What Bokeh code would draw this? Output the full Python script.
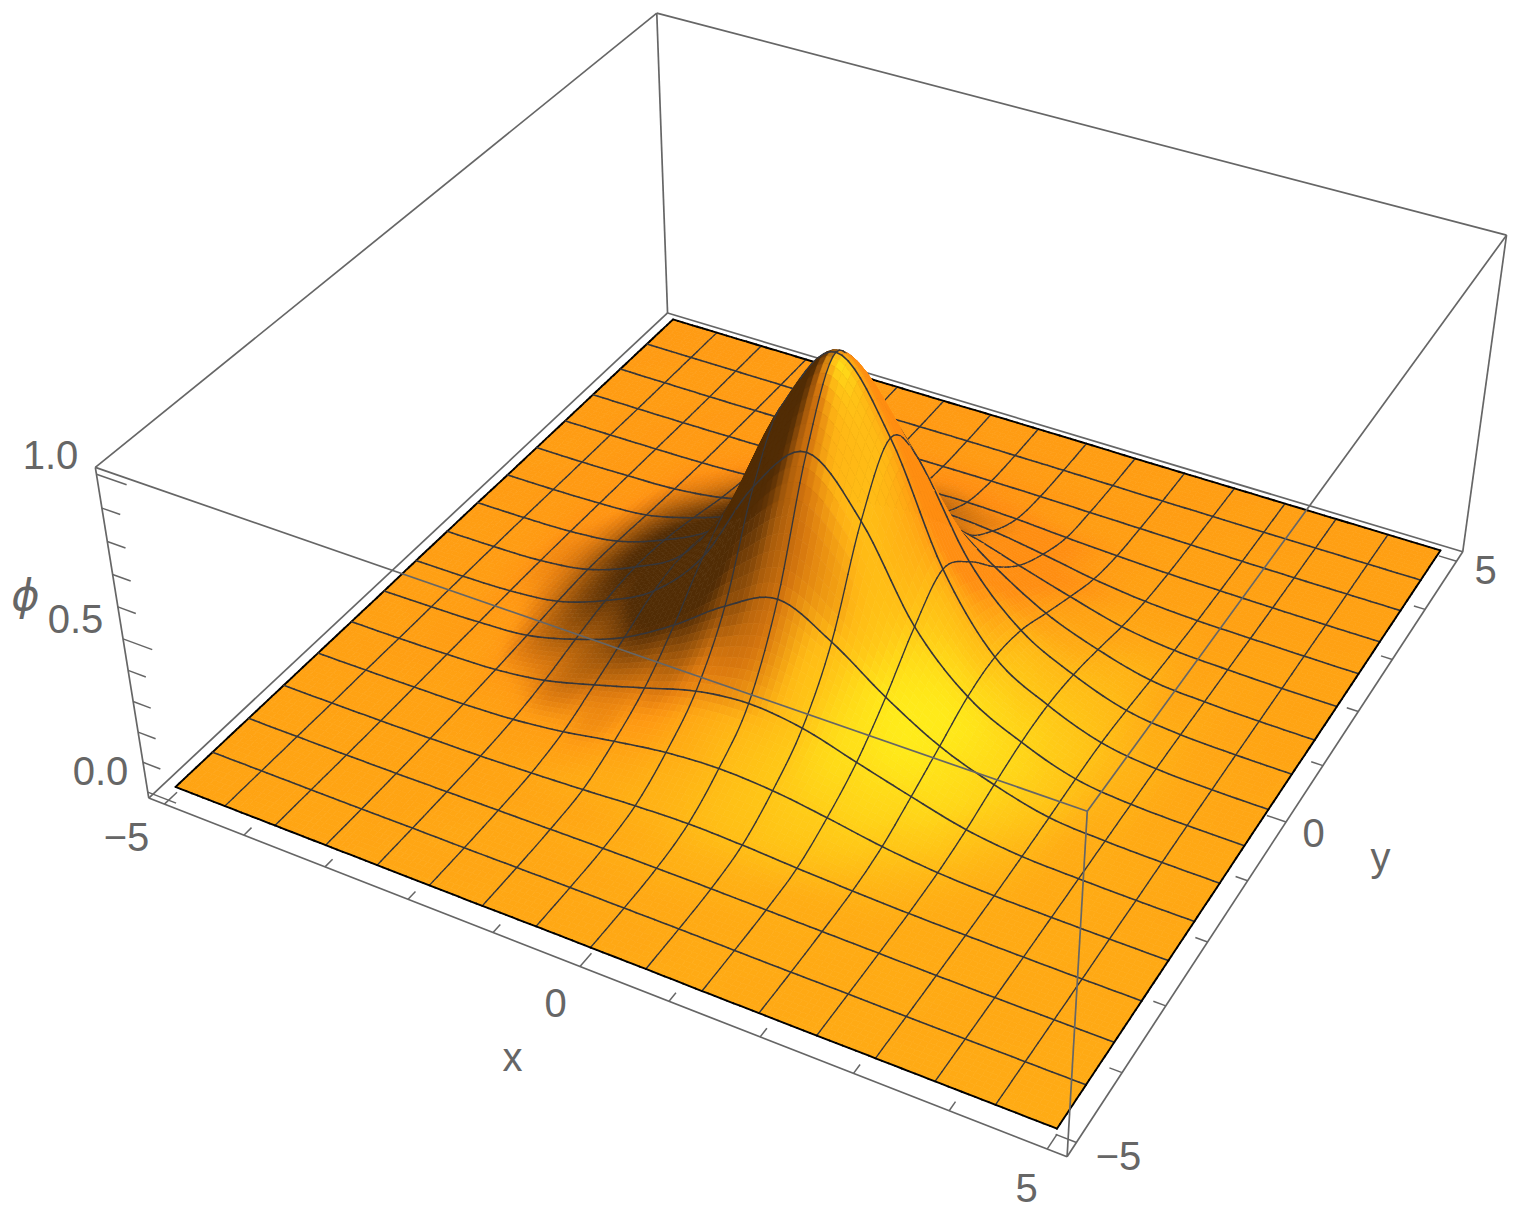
import numpy as np
from bokeh.plotting import figure
from bokeh.models import Range1d
from bokeh.embed import file_html
from bokeh.resources import INLINE
from bokeh.core.properties import value

# ---- data: phi at the 17 x 17 mesh crossings ------------------------------
Y_ROW_00 = [0, 0, 0, 0, 0, 0, 0, .001, .001, .001, 0, 0, 0, 0, 0, 0, 0]
Y_ROW_01 = [0, 0, 0, 0, .001, .001, .002, .003, .003, .003, .002, .001, .001, 0, 0, 0, 0]
Y_ROW_02 = [0, 0, 0, .001, .003, .005, .007, .009, .010, .009, .007, .005, .003, .001, 0, 0, 0]
Y_ROW_03 = [0, 0, .001, .003, .006, .012, .020, .030, .035, .030, .020, .012, .006, .003, .001, 0, 0]
Y_ROW_04 = [0, .001, .003, .006, .015, .035, .065, .090, .100, .090, .065, .035, .015, .006, .003, .001, 0]
Y_ROW_05 = [0, .001, .005, .012, .035, .080, .130, .180, .200, .180, .130, .080, .035, .012, .005, .001, 0]
Y_ROW_06 = [0, .002, .007, .020, .065, .130, .230, .350, .430, .350, .230, .130, .065, .020, .007, .002, 0]
Y_ROW_07 = [.001, .003, .009, .030, .090, .180, .350, .630, .790, .630, .350, .180, .090, .030, .009, .003, .001]
Y_ROW_08 = [.001, .003, .010, .035, .100, .200, .430, .790, 1.00, .790, .430, .200, .100, .035, .010, .003, .001]
Y_ROW_09 = [.001, .003, .009, .030, .090, .180, .350, .630, .790, .630, .350, .180, .090, .030, .009, .003, .001]
Y_ROW_10 = [0, .002, .007, .020, .065, .130, .230, .350, .430, .350, .230, .130, .065, .020, .007, .002, 0]
Y_ROW_11 = [0, .001, .005, .012, .035, .080, .130, .180, .200, .180, .130, .080, .035, .012, .005, .001, 0]
Y_ROW_12 = [0, .001, .003, .006, .015, .035, .065, .090, .100, .090, .065, .035, .015, .006, .003, .001, 0]
Y_ROW_13 = [0, 0, .001, .003, .006, .012, .020, .030, .035, .030, .020, .012, .006, .003, .001, 0, 0]
Y_ROW_14 = [0, 0, 0, .001, .003, .005, .007, .009, .010, .009, .007, .005, .003, .001, 0, 0, 0]
Y_ROW_15 = [0, 0, 0, 0, .001, .001, .002, .003, .003, .003, .002, .001, .001, 0, 0, 0, 0]
Y_ROW_16 = [0, 0, 0, 0, 0, 0, 0, .001, .001, .001, 0, 0, 0, 0, 0, 0, 0]

X_MAJOR = [-5, 0, 5]
X_MINOR = [-4, -3, -2, -1, 1, 2, 3, 4]
Y_MAJOR = [-5, 0, 5]
Y_MINOR = [-4, -3, -2, -1, 1, 2, 3, 4]
Z_MAJOR = [0.0, 0.5, 1.0]
Z_MINOR = [0.1, 0.2, 0.3, 0.4, 0.6, 0.7, 0.8, 0.9]

PHI = np.array([Y_ROW_00, Y_ROW_01, Y_ROW_02, Y_ROW_03, Y_ROW_04, Y_ROW_05, Y_ROW_06, Y_ROW_07, Y_ROW_08,
                Y_ROW_09, Y_ROW_10, Y_ROW_11, Y_ROW_12, Y_ROW_13, Y_ROW_14, Y_ROW_15, Y_ROW_16], dtype=float)

# ---- camera, calibrated on the box and surface corners -----------------------
B, ZL, ZH = 5.2, -0.02, 1.02
CAL_3D = [(-B, -B, ZL), (B, -B, ZL), (B, B, ZL), (-B, B, ZL),
          (-B, -B, ZH), (B, -B, ZH), (B, B, ZH), (-B, B, ZH),
          (-5, -5, 0), (5, -5, 0), (5, 5, 0), (-5, 5, 0)]
CAL_2D = [(147, 798), (1067, 1157), (1463, 552), (667, 312),
          (95, 467), (1087, 811), (1506, 234), (656, 13),
          (176, 786), (1056, 1127), (1439, 550), (673, 319)]

A, R = [], []
for (X, Y, Z), (u, v) in zip(CAL_3D, CAL_2D):
    A.append([X, Y, Z, 1, 0, 0, 0, 0, -u * X, -u * Y, -u * Z])
    A.append([0, 0, 0, 0, X, Y, Z, 1, -v * X, -v * Y, -v * Z])
    R += [u, v]
sol = np.linalg.lstsq(np.array(A, float), np.array(R, float), rcond=None)[0]
CAM = np.append(sol, 1.0).reshape(3, 4)


def project(x, y, z):
    x, y, z = np.asarray(x, float), np.asarray(y, float), np.asarray(z, float)
    w = CAM[2, 0] * x + CAM[2, 1] * y + CAM[2, 2] * z + CAM[2, 3]
    return ((CAM[0, 0] * x + CAM[0, 1] * y + CAM[0, 2] * z + CAM[0, 3]) / w,
            (CAM[1, 0] * x + CAM[1, 1] * y + CAM[1, 2] * z + CAM[1, 3]) / w)


# ---- the surface is drawn finer than the mesh so that its shading is smooth
SUB = 9


def refine(a, n, axis):
    a = np.moveaxis(a, axis, 0)
    p = np.concatenate([[2 * a[0] - a[1]], a, [2 * a[-1] - a[-2]]])
    m = a.shape[0] - 1
    out = np.zeros((m * n + 1,) + a.shape[1:])
    for s in range(m):
        for k in range(n):
            t = k / n
            out[s * n + k] = 0.5 * (2 * p[s + 1] + (p[s + 2] - p[s]) * t
                                    + (2 * p[s] - 5 * p[s + 1] + 4 * p[s + 2] - p[s + 3]) * t ** 2
                                    + (3 * p[s + 1] - p[s] - 3 * p[s + 2] + p[s + 3]) * t ** 3)
    out[-1] = a[-1]
    return np.moveaxis(out, 0, axis)


H = refine(refine(PHI, SUB, 0), SUB, 1)
N = H.shape[0] - 1
gx = np.linspace(-5, 5, N + 1)
GX, GY = np.meshgrid(gx, gx)
SX, SY = project(GX, GY, H)

# lighting
step = 10.0 / N
hy, hx = np.gradient(H, step)
nx, ny, nz = -4 * hx, -4 * hy, np.ones_like(H)
nn = np.sqrt(nx ** 2 + ny ** 2 + nz ** 2)
nx, ny, nz = nx / nn, ny / nn, nz / nn
vp = np.array([1.3, -2.4, 2.0])
e3 = vp / np.linalg.norm(vp)
e1 = np.cross([0, 0, 1.0], e3)
e1 /= np.linalg.norm(e1)
e2 = np.cross(e3, e1)


def dot_image(l):
    l = np.array(l, float)
    l = l[0] * e1 + l[1] * e2 + l[2] * e3
    l /= np.linalg.norm(l)
    return nx * l[0] + ny * l[1] + nz * l[2]


def dot_world(l):
    l = np.array(l, float)
    l /= np.linalg.norm(l)
    return nx * l[0] + ny * l[1] + nz * l[2]


NR, NG, NL = dot_image([1.5, -0.5, 2.0]), dot_image([1.5, 1.5, 2.0]), dot_world([0.5, -0.38, 0.78])
DARK = np.clip(0.55 + 1.9 * NR, 0.32, 1) * np.clip(0.55 + 0.75 * NG, 0.6, 1)
DARK = np.clip(DARK, 0.32, 1)
HUE = np.clip(0.63 + 1.0 * (NL - 0.77) + 0.9 * np.clip(NL - 0.93, 0, 1) + 0.035 * (SY - 700) / 430, 0.56, 0.93)
HUE = 0.54 + (HUE - 0.54) * DARK ** 3
CR = DARK
CG = DARK * HUE
CB = DARK * (0.02 + 0.09 * HUE)


def cell(c, j, i):
    return (c[j, i] + c[j, i + 1] + c[j + 1, i] + c[j + 1, i + 1]) / 4


p = figure(width=1520, height=1216, output_backend="svg", toolbar_location=None,
           x_range=Range1d(0, 1520), y_range=Range1d(1216, 0), min_border=0)
p.axis.visible = False
p.grid.visible = False
p.outline_line_color = None
p.background_fill_color = "white"

GREY = "#666666"
BOX = [(-B, -B, ZL), (B, -B, ZL), (B, B, ZL), (-B, B, ZL),
       (-B, -B, ZH), (B, -B, ZH), (B, B, ZH), (-B, B, ZH)]
BACK_EDGES = [(0, 1), (1, 2), (2, 3), (3, 0), (4, 7), (7, 6), (3, 7), (2, 6), (0, 4)]
FRONT_EDGES = [(4, 5), (5, 6), (1, 5)]


def draw_edges(edges, width=1.7):
    xs, ys = [], []
    for a, b in edges:
        u, v = project(*zip(BOX[a], BOX[b]))
        xs.append(list(u))
        ys.append(list(v))
    p.multi_line(xs, ys, line_color=GREY, line_width=width)


def ticks(points, dirn, length, width=1.5):
    xs, ys = [], []
    for q in points:
        u, v = project([q[0], q[0] + dirn[0] * length], [q[1], q[1] + dirn[1] * length], [q[2], q[2]])
        xs.append(list(u))
        ys.append(list(v))
    p.multi_line(xs, ys, line_color=GREY, line_width=width)


draw_edges(BACK_EDGES)
ticks([(v, -B, ZL) for v in X_MAJOR], (0, 1), 0.21)
ticks([(v, -B, ZL) for v in X_MINOR], (0, 1), 0.13)
ticks([(B, v, ZL) for v in Y_MAJOR], (-1, 0), 0.21)
ticks([(B, v, ZL) for v in Y_MINOR], (-1, 0), 0.13)
ticks([(-B, -B, v) for v in Z_MAJOR], (1, 0), 0.36)
ticks([(-B, -B, v) for v in Z_MINOR], (1, 0), 0.22)

# back-to-front painting: the eye is on the +x, -y side
CHUNK = 3
for band0 in range(0, 2 * N - 1, CHUNK):
    px, py, col = [], [], []
    lx, ly, lc, lw = [], [], [], []
    for band in range(band0, min(band0 + CHUNK, 2 * N - 1)):
        for i in range(max(0, band - N + 1), min(N - 1, band) + 1):
            j = N - 1 - (band - i)
            px.append([SX[j, i], SX[j, i + 1], SX[j + 1, i + 1], SX[j + 1, i]])
            py.append([SY[j, i], SY[j, i + 1], SY[j + 1, i + 1], SY[j + 1, i]])
            col.append("#%02x%02x%02x" % (int(cell(CR, j, i) * 255), int(cell(CG, j, i) * 255),
                                          int(cell(CB, j, i) * 255)))
            segs = []
            if i % SUB == 0:
                segs.append(((j, i), (j + 1, i), i == 0, 1.35))
            if (j + 1) % SUB == 0:
                segs.append(((j + 1, i), (j + 1, i + 1), j + 1 == N, 1.6))
            if i + 1 == N:
                segs.append(((j, i + 1), (j + 1, i + 1), True, 1.9))
            if j == 0:
                segs.append(((j, i), (j, i + 1), True, 1.9))
            for a, b, edge, wd in segs:
                lx.append([SX[a], SX[b]])
                ly.append([SY[a], SY[b]])
                lc.append("#000000" if edge else "#36363a")
                lw.append(1.9 if edge else wd)
    p.patches(px, py, fill_color=col, line_color=col, line_width=0.7)
    if lx:
        p.multi_line(lx, ly, line_color=lc, line_width=lw, line_cap="round")

draw_edges(FRONT_EDGES)

LABEL_TEXT = ["1.0", "0.5", "0.0", "\u22125", "0", "5", "\u22125", "0", "5", "x", "y"]
LABEL_X = [50, 75, 100, 126, 555, 1026, 1118, 1313, 1485, 512, 1380]
LABEL_Y = [454, 618, 770, 836, 1002, 1187, 1155, 832, 569, 1056, 856]
p.text(LABEL_X, LABEL_Y, text=LABEL_TEXT, text_color=GREY, text_font=value("Liberation Sans"),
       text_font_size="40px", text_align="center", text_baseline="middle")
p.text([25], [594], text=["\u03d5"], text_color=GREY, text_font=value("DejaVu Sans"),
       text_font_style="italic", text_font_size="43px", text_align="center", text_baseline="middle")

open("out.html", "w").write(file_html(p, INLINE))
